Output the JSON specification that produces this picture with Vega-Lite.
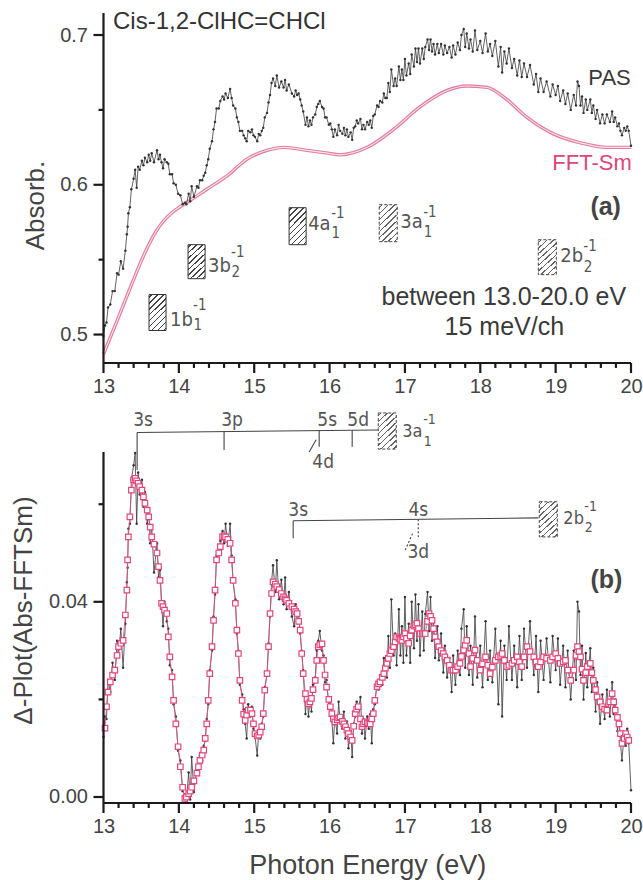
{
"$schema": "https://vega.github.io/schema/vega-lite/v6.json",
"width": 527.5, "height": 790,
"autosize": {"type": "none"},
"padding": {"left": 103.5, "top": 13, "right": 12, "bottom": 77},
"config": {
 "view": {"stroke": null, "fill": null},
 "axis": {"grid": false, "domain": false, "ticks": false, "labelColor": "#444", "labelFont": "Liberation Sans", "labelFontSize": 20, "titleFont": "Liberation Sans", "titleFontWeight": "normal", "titleColor": "#444", "labelPadding": 13, "zindex": 1},
 "text": {"font": "Liberation Sans"}
},
"datasets": {
 "fft": [{"e":13,"v":0.487},{"e":13.1,"v":0.4993},{"e":13.2,"v":0.5117},{"e":13.3,"v":0.5243},{"e":13.4,"v":0.5368},{"e":13.5,"v":0.549},{"e":13.6,"v":0.56},{"e":13.7,"v":0.569},{"e":13.8,"v":0.576},{"e":13.9,"v":0.581},{"e":14,"v":0.5848},{"e":14.1,"v":0.588},{"e":14.37,"v":0.597},{"e":14.64,"v":0.606},{"e":14.9,"v":0.617},{"e":15.17,"v":0.623},{"e":15.39,"v":0.625},{"e":15.7,"v":0.623},{"e":15.95,"v":0.6213},{"e":16.14,"v":0.62},{"e":16.5,"v":0.625},{"e":16.85,"v":0.637},{"e":17.2,"v":0.652},{"e":17.56,"v":0.663},{"e":17.82,"v":0.666},{"e":18.09,"v":0.665},{"e":18.35,"v":0.657},{"e":18.62,"v":0.645},{"e":18.97,"v":0.634},{"e":19.33,"v":0.628},{"e":19.68,"v":0.625},{"e":20,"v":0.625}],
 "pas": [{"e":13,"v":0.499},{"e":13.02,"v":0.506},{"e":13.04,"v":0.508},{"e":13.06,"v":0.518},{"e":13.09,"v":0.52},{"e":13.12,"v":0.529},{"e":13.15,"v":0.529},{"e":13.18,"v":0.541},{"e":13.2,"v":0.54},{"e":13.23,"v":0.549},{"e":13.26,"v":0.544},{"e":13.29,"v":0.556},{"e":13.31,"v":0.567},{"e":13.32,"v":0.572},{"e":13.33,"v":0.581},{"e":13.35,"v":0.585},{"e":13.37,"v":0.597},{"e":13.4,"v":0.604},{"e":13.42,"v":0.61},{"e":13.44,"v":0.598},{"e":13.46,"v":0.612},{"e":13.48,"v":0.61},{"e":13.51,"v":0.616},{"e":13.53,"v":0.613},{"e":13.55,"v":0.618},{"e":13.58,"v":0.615},{"e":13.6,"v":0.62},{"e":13.62,"v":0.616},{"e":13.64,"v":0.621},{"e":13.67,"v":0.615},{"e":13.71,"v":0.623},{"e":13.73,"v":0.617},{"e":13.75,"v":0.62},{"e":13.77,"v":0.615},{"e":13.79,"v":0.611},{"e":13.81,"v":0.617},{"e":13.84,"v":0.615},{"e":13.86,"v":0.614},{"e":13.88,"v":0.607},{"e":13.91,"v":0.607},{"e":13.93,"v":0.601},{"e":13.96,"v":0.6},{"e":13.99,"v":0.594},{"e":14.02,"v":0.593},{"e":14.05,"v":0.587},{"e":14.08,"v":0.588},{"e":14.1,"v":0.587},{"e":14.13,"v":0.594},{"e":14.15,"v":0.589},{"e":14.17,"v":0.599},{"e":14.2,"v":0.592},{"e":14.24,"v":0.599},{"e":14.26,"v":0.598},{"e":14.28,"v":0.603},{"e":14.31,"v":0.603},{"e":14.33,"v":0.606},{"e":14.35,"v":0.608},{"e":14.37,"v":0.613},{"e":14.39,"v":0.617},{"e":14.41,"v":0.624},{"e":14.44,"v":0.629},{"e":14.46,"v":0.637},{"e":14.48,"v":0.642},{"e":14.5,"v":0.651},{"e":14.53,"v":0.651},{"e":14.55,"v":0.656},{"e":14.58,"v":0.659},{"e":14.6,"v":0.657},{"e":14.62,"v":0.661},{"e":14.65,"v":0.658},{"e":14.68,"v":0.664},{"e":14.7,"v":0.658},{"e":14.72,"v":0.653},{"e":14.75,"v":0.651},{"e":14.77,"v":0.645},{"e":14.79,"v":0.642},{"e":14.81,"v":0.636},{"e":14.84,"v":0.636},{"e":14.86,"v":0.633},{"e":14.88,"v":0.631},{"e":14.9,"v":0.629},{"e":14.92,"v":0.636},{"e":14.95,"v":0.635},{"e":14.97,"v":0.637},{"e":14.99,"v":0.633},{"e":15.01,"v":0.632},{"e":15.04,"v":0.629},{"e":15.06,"v":0.634},{"e":15.08,"v":0.633},{"e":15.1,"v":0.636},{"e":15.12,"v":0.638},{"e":15.14,"v":0.645},{"e":15.17,"v":0.648},{"e":15.19,"v":0.655},{"e":15.21,"v":0.66},{"e":15.23,"v":0.668},{"e":15.25,"v":0.671},{"e":15.28,"v":0.666},{"e":15.3,"v":0.673},{"e":15.33,"v":0.665},{"e":15.36,"v":0.669},{"e":15.39,"v":0.665},{"e":15.41,"v":0.67},{"e":15.43,"v":0.663},{"e":15.46,"v":0.667},{"e":15.5,"v":0.661},{"e":15.53,"v":0.659},{"e":15.55,"v":0.663},{"e":15.57,"v":0.66},{"e":15.59,"v":0.661},{"e":15.61,"v":0.657},{"e":15.63,"v":0.653},{"e":15.65,"v":0.649},{"e":15.68,"v":0.64},{"e":15.7,"v":0.645},{"e":15.72,"v":0.639},{"e":15.74,"v":0.643},{"e":15.76,"v":0.64},{"e":15.78,"v":0.645},{"e":15.81,"v":0.647},{"e":15.83,"v":0.652},{"e":15.85,"v":0.654},{"e":15.87,"v":0.656},{"e":15.9,"v":0.652},{"e":15.92,"v":0.651},{"e":15.94,"v":0.645},{"e":15.96,"v":0.645},{"e":15.99,"v":0.64},{"e":16.01,"v":0.641},{"e":16.03,"v":0.637},{"e":16.05,"v":0.632},{"e":16.07,"v":0.637},{"e":16.1,"v":0.633},{"e":16.12,"v":0.64},{"e":16.14,"v":0.636},{"e":16.17,"v":0.634},{"e":16.19,"v":0.638},{"e":16.21,"v":0.633},{"e":16.23,"v":0.637},{"e":16.25,"v":0.632},{"e":16.28,"v":0.635},{"e":16.3,"v":0.63},{"e":16.32,"v":0.638},{"e":16.34,"v":0.639},{"e":16.36,"v":0.643},{"e":16.38,"v":0.641},{"e":16.41,"v":0.644},{"e":16.43,"v":0.637},{"e":16.45,"v":0.64},{"e":16.47,"v":0.637},{"e":16.5,"v":0.642},{"e":16.52,"v":0.64},{"e":16.54,"v":0.643},{"e":16.56,"v":0.638},{"e":16.58,"v":0.646},{"e":16.6,"v":0.647},{"e":16.63,"v":0.653},{"e":16.65,"v":0.652},{"e":16.67,"v":0.656},{"e":16.7,"v":0.655},{"e":16.72,"v":0.661},{"e":16.74,"v":0.658},{"e":16.76,"v":0.658},{"e":16.78,"v":0.668},{"e":16.8,"v":0.662},{"e":16.82,"v":0.677},{"e":16.85,"v":0.666},{"e":16.87,"v":0.671},{"e":16.89,"v":0.666},{"e":16.92,"v":0.679},{"e":16.94,"v":0.67},{"e":16.96,"v":0.677},{"e":16.98,"v":0.67},{"e":17,"v":0.684},{"e":17.02,"v":0.673},{"e":17.05,"v":0.681},{"e":17.07,"v":0.674},{"e":17.09,"v":0.687},{"e":17.12,"v":0.679},{"e":17.14,"v":0.691},{"e":17.16,"v":0.682},{"e":17.18,"v":0.691},{"e":17.2,"v":0.681},{"e":17.23,"v":0.691},{"e":17.25,"v":0.684},{"e":17.27,"v":0.692},{"e":17.3,"v":0.697},{"e":17.32,"v":0.69},{"e":17.34,"v":0.697},{"e":17.36,"v":0.689},{"e":17.38,"v":0.694},{"e":17.4,"v":0.687},{"e":17.43,"v":0.694},{"e":17.45,"v":0.688},{"e":17.48,"v":0.694},{"e":17.51,"v":0.687},{"e":17.53,"v":0.693},{"e":17.56,"v":0.688},{"e":17.59,"v":0.692},{"e":17.62,"v":0.685},{"e":17.64,"v":0.693},{"e":17.67,"v":0.687},{"e":17.7,"v":0.695},{"e":17.73,"v":0.69},{"e":17.75,"v":0.7},{"e":17.78,"v":0.704},{"e":17.8,"v":0.692},{"e":17.82,"v":0.701},{"e":17.85,"v":0.691},{"e":17.87,"v":0.697},{"e":17.9,"v":0.689},{"e":17.93,"v":0.703},{"e":17.96,"v":0.69},{"e":18,"v":0.696},{"e":18.03,"v":0.688},{"e":18.07,"v":0.701},{"e":18.1,"v":0.689},{"e":18.13,"v":0.694},{"e":18.16,"v":0.686},{"e":18.2,"v":0.696},{"e":18.24,"v":0.679},{"e":18.27,"v":0.692},{"e":18.29,"v":0.675},{"e":18.32,"v":0.689},{"e":18.35,"v":0.681},{"e":18.38,"v":0.691},{"e":18.42,"v":0.678},{"e":18.45,"v":0.684},{"e":18.49,"v":0.673},{"e":18.52,"v":0.683},{"e":18.55,"v":0.672},{"e":18.58,"v":0.681},{"e":18.62,"v":0.672},{"e":18.66,"v":0.68},{"e":18.71,"v":0.667},{"e":18.74,"v":0.674},{"e":18.77,"v":0.662},{"e":18.8,"v":0.671},{"e":18.84,"v":0.662},{"e":18.88,"v":0.669},{"e":18.93,"v":0.659},{"e":18.96,"v":0.667},{"e":19,"v":0.66},{"e":19.03,"v":0.666},{"e":19.06,"v":0.656},{"e":19.1,"v":0.663},{"e":19.13,"v":0.654},{"e":19.16,"v":0.661},{"e":19.2,"v":0.65},{"e":19.24,"v":0.66},{"e":19.27,"v":0.653},{"e":19.29,"v":0.669},{"e":19.31,"v":0.666},{"e":19.33,"v":0.653},{"e":19.35,"v":0.659},{"e":19.37,"v":0.648},{"e":19.4,"v":0.657},{"e":19.42,"v":0.65},{"e":19.46,"v":0.657},{"e":19.48,"v":0.648},{"e":19.5,"v":0.653},{"e":19.53,"v":0.644},{"e":19.55,"v":0.65},{"e":19.59,"v":0.641},{"e":19.62,"v":0.647},{"e":19.65,"v":0.641},{"e":19.68,"v":0.647},{"e":19.72,"v":0.642},{"e":19.75,"v":0.649},{"e":19.77,"v":0.642},{"e":19.79,"v":0.645},{"e":19.82,"v":0.639},{"e":19.84,"v":0.641},{"e":19.86,"v":0.636},{"e":19.88,"v":0.633},{"e":19.91,"v":0.638},{"e":19.93,"v":0.636},{"e":19.95,"v":0.639},{"e":19.97,"v":0.636},{"e":20,"v":0.626}],
 "blk": [{"e":13,"v":0.0123},{"e":13.02,"v":0.0165},{"e":13.04,"v":0.016},{"e":13.06,"v":0.024},{"e":13.09,"v":0.0215},{"e":13.12,"v":0.0275},{"e":13.15,"v":0.024},{"e":13.18,"v":0.032},{"e":13.2,"v":0.029},{"e":13.23,"v":0.0345},{"e":13.26,"v":0.0265},{"e":13.29,"v":0.0355},{"e":13.31,"v":0.044},{"e":13.32,"v":0.047},{"e":13.33,"v":0.055},{"e":13.35,"v":0.056},{"e":13.37,"v":0.065},{"e":13.4,"v":0.068},{"e":13.42,"v":0.0705},{"e":13.44,"v":0.056},{"e":13.46,"v":0.0665},{"e":13.48,"v":0.062},{"e":13.51,"v":0.065},{"e":13.53,"v":0.0595},{"e":13.55,"v":0.0625},{"e":13.58,"v":0.056},{"e":13.6,"v":0.059},{"e":13.62,"v":0.052},{"e":13.64,"v":0.0555},{"e":13.67,"v":0.046},{"e":13.71,"v":0.052},{"e":13.73,"v":0.045},{"e":13.75,"v":0.0465},{"e":13.77,"v":0.04},{"e":13.79,"v":0.035},{"e":13.81,"v":0.04},{"e":13.84,"v":0.036},{"e":13.86,"v":0.0345},{"e":13.88,"v":0.027},{"e":13.91,"v":0.026},{"e":13.93,"v":0.019},{"e":13.96,"v":0.0165},{"e":13.99,"v":0.0095},{"e":14.02,"v":0.0075},{"e":14.05,"v":0.0012},{"e":14.08,"v":0.0005},{"e":14.1,"v":-0.0008},{"e":14.13,"v":0.005},{"e":14.15,"v":-0.0005},{"e":14.17,"v":0.0082},{"e":14.2,"v":0.001},{"e":14.24,"v":0.006},{"e":14.26,"v":0.0045},{"e":14.28,"v":0.0085},{"e":14.31,"v":0.0075},{"e":14.33,"v":0.0105},{"e":14.35,"v":0.0115},{"e":14.37,"v":0.016},{"e":14.39,"v":0.019},{"e":14.41,"v":0.026},{"e":14.44,"v":0.03},{"e":14.46,"v":0.037},{"e":14.48,"v":0.0415},{"e":14.5,"v":0.0495},{"e":14.53,"v":0.049},{"e":14.55,"v":0.0525},{"e":14.58,"v":0.0545},{"e":14.6,"v":0.052},{"e":14.62,"v":0.056},{"e":14.65,"v":0.0515},{"e":14.68,"v":0.056},{"e":14.7,"v":0.0495},{"e":14.72,"v":0.044},{"e":14.75,"v":0.0405},{"e":14.77,"v":0.0335},{"e":14.79,"v":0.03},{"e":14.81,"v":0.023},{"e":14.84,"v":0.021},{"e":14.86,"v":0.018},{"e":14.88,"v":0.015},{"e":14.9,"v":0.012},{"e":14.92,"v":0.019},{"e":14.95,"v":0.0165},{"e":14.97,"v":0.0185},{"e":14.99,"v":0.014},{"e":15.01,"v":0.0125},{"e":15.04,"v":0.0085},{"e":15.06,"v":0.0135},{"e":15.08,"v":0.012},{"e":15.1,"v":0.015},{"e":15.12,"v":0.0165},{"e":15.14,"v":0.0225},{"e":15.17,"v":0.025},{"e":15.19,"v":0.0315},{"e":15.21,"v":0.037},{"e":15.23,"v":0.044},{"e":15.25,"v":0.0475},{"e":15.28,"v":0.042},{"e":15.3,"v":0.0485},{"e":15.33,"v":0.0405},{"e":15.36,"v":0.0445},{"e":15.39,"v":0.0395},{"e":15.41,"v":0.045},{"e":15.43,"v":0.0385},{"e":15.46,"v":0.042},{"e":15.5,"v":0.037},{"e":15.53,"v":0.035},{"e":15.55,"v":0.0395},{"e":15.57,"v":0.036},{"e":15.59,"v":0.0375},{"e":15.61,"v":0.0335},{"e":15.63,"v":0.03},{"e":15.65,"v":0.026},{"e":15.68,"v":0.017},{"e":15.7,"v":0.0215},{"e":15.72,"v":0.0165},{"e":15.74,"v":0.02},{"e":15.76,"v":0.0175},{"e":15.78,"v":0.023},{"e":15.81,"v":0.0245},{"e":15.83,"v":0.03},{"e":15.85,"v":0.032},{"e":15.87,"v":0.034},{"e":15.9,"v":0.03},{"e":15.92,"v":0.029},{"e":15.94,"v":0.0235},{"e":15.96,"v":0.024},{"e":15.99,"v":0.0185},{"e":16.01,"v":0.02},{"e":16.03,"v":0.016},{"e":16.05,"v":0.011},{"e":16.07,"v":0.0165},{"e":16.1,"v":0.013},{"e":16.12,"v":0.0195},{"e":16.14,"v":0.0155},{"e":16.17,"v":0.014},{"e":16.19,"v":0.0175},{"e":16.21,"v":0.012},{"e":16.23,"v":0.0155},{"e":16.25,"v":0.01},{"e":16.28,"v":0.0135},{"e":16.3,"v":0.0082},{"e":16.32,"v":0.015},{"e":16.34,"v":0.0165},{"e":16.36,"v":0.0195},{"e":16.38,"v":0.0175},{"e":16.41,"v":0.0205},{"e":16.43,"v":0.013},{"e":16.45,"v":0.016},{"e":16.47,"v":0.012},{"e":16.5,"v":0.0165},{"e":16.52,"v":0.014},{"e":16.54,"v":0.017},{"e":16.56,"v":0.011},{"e":16.58,"v":0.018},{"e":16.6,"v":0.019},{"e":16.63,"v":0.0235},{"e":16.65,"v":0.022},{"e":16.67,"v":0.025},{"e":16.7,"v":0.023},{"e":16.72,"v":0.0285},{"e":16.74,"v":0.025},{"e":16.76,"v":0.0245},{"e":16.78,"v":0.033},{"e":16.8,"v":0.0265},{"e":16.82,"v":0.0405},{"e":16.85,"v":0.029},{"e":16.87,"v":0.0335},{"e":16.89,"v":0.027},{"e":16.92,"v":0.0385},{"e":16.94,"v":0.029},{"e":16.96,"v":0.035},{"e":16.98,"v":0.0275},{"e":17,"v":0.041},{"e":17.02,"v":0.029},{"e":17.05,"v":0.0355},{"e":17.07,"v":0.0275},{"e":17.09,"v":0.04},{"e":17.12,"v":0.0305},{"e":17.14,"v":0.0415},{"e":17.16,"v":0.032},{"e":17.18,"v":0.0395},{"e":17.2,"v":0.029},{"e":17.23,"v":0.038},{"e":17.25,"v":0.03},{"e":17.27,"v":0.0375},{"e":17.3,"v":0.042},{"e":17.32,"v":0.034},{"e":17.34,"v":0.041},{"e":17.36,"v":0.032},{"e":17.38,"v":0.036},{"e":17.4,"v":0.0285},{"e":17.43,"v":0.035},{"e":17.45,"v":0.028},{"e":17.48,"v":0.0335},{"e":17.51,"v":0.0255},{"e":17.53,"v":0.031},{"e":17.56,"v":0.0245},{"e":17.59,"v":0.0285},{"e":17.62,"v":0.0215},{"e":17.64,"v":0.029},{"e":17.67,"v":0.023},{"e":17.7,"v":0.03},{"e":17.73,"v":0.025},{"e":17.75,"v":0.0345},{"e":17.78,"v":0.0385},{"e":17.8,"v":0.0265},{"e":17.82,"v":0.035},{"e":17.85,"v":0.025},{"e":17.87,"v":0.031},{"e":17.9,"v":0.023},{"e":17.93,"v":0.037},{"e":17.96,"v":0.0245},{"e":18,"v":0.031},{"e":18.03,"v":0.0225},{"e":18.07,"v":0.036},{"e":18.1,"v":0.024},{"e":18.13,"v":0.03},{"e":18.16,"v":0.0235},{"e":18.2,"v":0.0345},{"e":18.24,"v":0.019},{"e":18.27,"v":0.032},{"e":18.29,"v":0.0165},{"e":18.32,"v":0.031},{"e":18.35,"v":0.024},{"e":18.38,"v":0.035},{"e":18.42,"v":0.024},{"e":18.45,"v":0.031},{"e":18.49,"v":0.0225},{"e":18.52,"v":0.033},{"e":18.55,"v":0.024},{"e":18.58,"v":0.0345},{"e":18.62,"v":0.0265},{"e":18.66,"v":0.036},{"e":18.71,"v":0.025},{"e":18.74,"v":0.033},{"e":18.77,"v":0.0215},{"e":18.8,"v":0.032},{"e":18.84,"v":0.024},{"e":18.88,"v":0.0325},{"e":18.93,"v":0.0235},{"e":18.96,"v":0.033},{"e":19,"v":0.026},{"e":19.03,"v":0.0325},{"e":19.06,"v":0.023},{"e":19.1,"v":0.031},{"e":19.13,"v":0.0225},{"e":19.16,"v":0.03},{"e":19.2,"v":0.02},{"e":19.24,"v":0.03},{"e":19.27,"v":0.024},{"e":19.29,"v":0.04},{"e":19.31,"v":0.038},{"e":19.33,"v":0.025},{"e":19.35,"v":0.031},{"e":19.37,"v":0.02},{"e":19.4,"v":0.0295},{"e":19.42,"v":0.0225},{"e":19.46,"v":0.0305},{"e":19.48,"v":0.0215},{"e":19.5,"v":0.0265},{"e":19.53,"v":0.0175},{"e":19.55,"v":0.0235},{"e":19.59,"v":0.015},{"e":19.62,"v":0.021},{"e":19.65,"v":0.016},{"e":19.68,"v":0.022},{"e":19.72,"v":0.0165},{"e":19.75,"v":0.0235},{"e":19.77,"v":0.017},{"e":19.79,"v":0.02},{"e":19.82,"v":0.0135},{"e":19.84,"v":0.016},{"e":19.86,"v":0.011},{"e":19.88,"v":0.0075},{"e":19.91,"v":0.013},{"e":19.93,"v":0.0105},{"e":19.95,"v":0.014},{"e":19.97,"v":0.011},{"e":20,"v":0.0014}],
 "pink": [{"e":13.02,"v":0.0141},{"e":13.04,"v":0.0185},{"e":13.06,"v":0.0215},{"e":13.09,"v":0.0236},{"e":13.12,"v":0.025},{"e":13.15,"v":0.026},{"e":13.18,"v":0.029},{"e":13.2,"v":0.0308},{"e":13.23,"v":0.0315},{"e":13.26,"v":0.0321},{"e":13.29,"v":0.0373},{"e":13.31,"v":0.0424},{"e":13.32,"v":0.0486},{"e":13.33,"v":0.0533},{"e":13.35,"v":0.0574},{"e":13.37,"v":0.0629},{"e":13.4,"v":0.065},{"e":13.42,"v":0.0653},{"e":13.44,"v":0.0648},{"e":13.46,"v":0.0643},{"e":13.48,"v":0.0636},{"e":13.51,"v":0.0629},{"e":13.53,"v":0.0615},{"e":13.55,"v":0.0602},{"e":13.58,"v":0.0588},{"e":13.6,"v":0.0574},{"e":13.62,"v":0.0553},{"e":13.64,"v":0.0533},{"e":13.67,"v":0.0518},{"e":13.71,"v":0.05},{"e":13.73,"v":0.0472},{"e":13.75,"v":0.0444},{"e":13.77,"v":0.0397},{"e":13.79,"v":0.039},{"e":13.81,"v":0.0383},{"e":13.84,"v":0.0376},{"e":13.86,"v":0.0328},{"e":13.88,"v":0.0287},{"e":13.91,"v":0.0246},{"e":13.93,"v":0.0198},{"e":13.96,"v":0.015},{"e":13.99,"v":0.0103},{"e":14.02,"v":0.0062},{"e":14.05,"v":0.002},{"e":14.08,"v":-0.0003},{"e":14.1,"v":0},{"e":14.13,"v":0.0007},{"e":14.15,"v":0.0012},{"e":14.17,"v":0.002},{"e":14.2,"v":0.0033},{"e":14.24,"v":0.0049},{"e":14.26,"v":0.0062},{"e":14.28,"v":0.0075},{"e":14.31,"v":0.0086},{"e":14.33,"v":0.0096},{"e":14.35,"v":0.012},{"e":14.37,"v":0.015},{"e":14.39,"v":0.0198},{"e":14.41,"v":0.0253},{"e":14.44,"v":0.0308},{"e":14.46,"v":0.0362},{"e":14.48,"v":0.0424},{"e":14.5,"v":0.0486},{"e":14.53,"v":0.05},{"e":14.55,"v":0.0513},{"e":14.58,"v":0.0533},{"e":14.6,"v":0.0535},{"e":14.62,"v":0.0533},{"e":14.65,"v":0.0528},{"e":14.68,"v":0.052},{"e":14.7,"v":0.0486},{"e":14.72,"v":0.0444},{"e":14.75,"v":0.0397},{"e":14.77,"v":0.0342},{"e":14.79,"v":0.0294},{"e":14.81,"v":0.0239},{"e":14.84,"v":0.0198},{"e":14.86,"v":0.017},{"e":14.88,"v":0.0157},{"e":14.9,"v":0.0168},{"e":14.92,"v":0.0178},{"e":14.95,"v":0.0178},{"e":14.97,"v":0.0171},{"e":14.99,"v":0.015},{"e":15.01,"v":0.013},{"e":15.04,"v":0.0125},{"e":15.06,"v":0.0127},{"e":15.08,"v":0.0133},{"e":15.1,"v":0.0144},{"e":15.12,"v":0.0171},{"e":15.14,"v":0.0219},{"e":15.17,"v":0.0253},{"e":15.19,"v":0.0308},{"e":15.21,"v":0.0376},{"e":15.23,"v":0.0417},{"e":15.25,"v":0.0441},{"e":15.28,"v":0.0436},{"e":15.3,"v":0.0431},{"e":15.33,"v":0.0425},{"e":15.36,"v":0.0417},{"e":15.39,"v":0.041},{"e":15.41,"v":0.0406},{"e":15.43,"v":0.0403},{"e":15.46,"v":0.0397},{"e":15.5,"v":0.039},{"e":15.53,"v":0.0385},{"e":15.55,"v":0.038},{"e":15.57,"v":0.0376},{"e":15.59,"v":0.036},{"e":15.61,"v":0.0342},{"e":15.63,"v":0.0294},{"e":15.65,"v":0.0253},{"e":15.68,"v":0.0212},{"e":15.7,"v":0.02},{"e":15.72,"v":0.0191},{"e":15.74,"v":0.0195},{"e":15.76,"v":0.0202},{"e":15.78,"v":0.022},{"e":15.81,"v":0.0239},{"e":15.83,"v":0.028},{"e":15.85,"v":0.0308},{"e":15.87,"v":0.0312},{"e":15.9,"v":0.0314},{"e":15.92,"v":0.028},{"e":15.94,"v":0.025},{"e":15.96,"v":0.0225},{"e":15.99,"v":0.02},{"e":16.01,"v":0.0185},{"e":16.03,"v":0.0171},{"e":16.05,"v":0.016},{"e":16.07,"v":0.0154},{"e":16.1,"v":0.0158},{"e":16.12,"v":0.0162},{"e":16.14,"v":0.0164},{"e":16.17,"v":0.0155},{"e":16.19,"v":0.015},{"e":16.21,"v":0.0144},{"e":16.23,"v":0.0137},{"e":16.25,"v":0.013},{"e":16.28,"v":0.0123},{"e":16.3,"v":0.0116},{"e":16.32,"v":0.0145},{"e":16.34,"v":0.0171},{"e":16.36,"v":0.018},{"e":16.38,"v":0.0185},{"e":16.41,"v":0.016},{"e":16.43,"v":0.0144},{"e":16.45,"v":0.015},{"e":16.47,"v":0.0154},{"e":16.5,"v":0.0152},{"e":16.52,"v":0.0151},{"e":16.54,"v":0.015},{"e":16.56,"v":0.016},{"e":16.58,"v":0.0171},{"e":16.6,"v":0.0198},{"e":16.63,"v":0.0226},{"e":16.65,"v":0.0232},{"e":16.67,"v":0.0236},{"e":16.7,"v":0.0245},{"e":16.72,"v":0.0253},{"e":16.74,"v":0.0264},{"e":16.76,"v":0.0274},{"e":16.78,"v":0.0284},{"e":16.8,"v":0.0294},{"e":16.82,"v":0.03},{"e":16.85,"v":0.0308},{"e":16.87,"v":0.0318},{"e":16.89,"v":0.0328},{"e":16.92,"v":0.0325},{"e":16.94,"v":0.0323},{"e":16.96,"v":0.0321},{"e":16.98,"v":0.0328},{"e":17,"v":0.0335},{"e":17.02,"v":0.0325},{"e":17.05,"v":0.0315},{"e":17.07,"v":0.033},{"e":17.09,"v":0.0342},{"e":17.12,"v":0.035},{"e":17.14,"v":0.0353},{"e":17.16,"v":0.0356},{"e":17.18,"v":0.0345},{"e":17.2,"v":0.0335},{"e":17.23,"v":0.0335},{"e":17.25,"v":0.0335},{"e":17.27,"v":0.0335},{"e":17.3,"v":0.036},{"e":17.32,"v":0.0376},{"e":17.34,"v":0.037},{"e":17.36,"v":0.0362},{"e":17.38,"v":0.0345},{"e":17.4,"v":0.0328},{"e":17.43,"v":0.0318},{"e":17.45,"v":0.0308},{"e":17.48,"v":0.03},{"e":17.51,"v":0.0294},{"e":17.53,"v":0.0287},{"e":17.56,"v":0.028},{"e":17.59,"v":0.027},{"e":17.62,"v":0.026},{"e":17.64,"v":0.026},{"e":17.67,"v":0.026},{"e":17.7,"v":0.0267},{"e":17.73,"v":0.0274},{"e":17.75,"v":0.0288},{"e":17.78,"v":0.0301},{"e":17.8,"v":0.0311},{"e":17.82,"v":0.0321},{"e":17.85,"v":0.0294},{"e":17.87,"v":0.0267},{"e":17.9,"v":0.0284},{"e":17.93,"v":0.0301},{"e":17.96,"v":0.028},{"e":18,"v":0.026},{"e":18.03,"v":0.0273},{"e":18.07,"v":0.0287},{"e":18.1,"v":0.027},{"e":18.13,"v":0.0253},{"e":18.16,"v":0.0266},{"e":18.2,"v":0.028},{"e":18.24,"v":0.0287},{"e":18.27,"v":0.029},{"e":18.29,"v":0.0294},{"e":18.32,"v":0.028},{"e":18.35,"v":0.0267},{"e":18.38,"v":0.027},{"e":18.42,"v":0.0274},{"e":18.45,"v":0.028},{"e":18.49,"v":0.0287},{"e":18.52,"v":0.0277},{"e":18.55,"v":0.0267},{"e":18.58,"v":0.0287},{"e":18.62,"v":0.0308},{"e":18.66,"v":0.0298},{"e":18.71,"v":0.0287},{"e":18.74,"v":0.0277},{"e":18.77,"v":0.0267},{"e":18.8,"v":0.0277},{"e":18.84,"v":0.0287},{"e":18.88,"v":0.0284},{"e":18.93,"v":0.028},{"e":18.96,"v":0.0287},{"e":19,"v":0.0294},{"e":19.03,"v":0.0284},{"e":19.06,"v":0.0274},{"e":19.1,"v":0.0277},{"e":19.13,"v":0.028},{"e":19.16,"v":0.026},{"e":19.2,"v":0.0239},{"e":19.24,"v":0.026},{"e":19.27,"v":0.029},{"e":19.29,"v":0.0308},{"e":19.31,"v":0.0298},{"e":19.33,"v":0.0287},{"e":19.35,"v":0.0262},{"e":19.37,"v":0.0239},{"e":19.4,"v":0.0255},{"e":19.42,"v":0.0267},{"e":19.46,"v":0.0274},{"e":19.48,"v":0.0255},{"e":19.5,"v":0.0239},{"e":19.53,"v":0.022},{"e":19.55,"v":0.0205},{"e":19.59,"v":0.0195},{"e":19.62,"v":0.0185},{"e":19.65,"v":0.018},{"e":19.68,"v":0.0178},{"e":19.72,"v":0.0195},{"e":19.75,"v":0.0212},{"e":19.77,"v":0.0195},{"e":19.79,"v":0.0178},{"e":19.82,"v":0.0163},{"e":19.84,"v":0.015},{"e":19.86,"v":0.013},{"e":19.88,"v":0.011},{"e":19.91,"v":0.012},{"e":19.93,"v":0.013},{"e":19.95,"v":0.0123},{"e":19.97,"v":0.0116}],
 "axT": [{"e":13,"e2":20,"v":0.481,"v2":0.481},{"e":13,"e2":13,"v":0.481,"v2":0.7147},{"e":13,"e2":12.867,"v":0.5,"v2":0.5},{"e":13,"e2":12.867,"v":0.6,"v2":0.6},{"e":13,"e2":12.867,"v":0.7,"v2":0.7},{"e":13,"e2":12.934,"v":0.55,"v2":0.55},{"e":13,"e2":12.934,"v":0.65,"v2":0.65},{"e":13,"e2":13,"v":0.481,"v2":0.4743},{"e":14,"e2":14,"v":0.481,"v2":0.4743},{"e":15,"e2":15,"v":0.481,"v2":0.4743},{"e":16,"e2":16,"v":0.481,"v2":0.4743},{"e":17,"e2":17,"v":0.481,"v2":0.4743},{"e":18,"e2":18,"v":0.481,"v2":0.4743},{"e":19,"e2":19,"v":0.481,"v2":0.4743},{"e":20,"e2":20,"v":0.481,"v2":0.4743},{"e":13.2,"e2":13.2,"v":0.481,"v2":0.4777},{"e":13.4,"e2":13.4,"v":0.481,"v2":0.4777},{"e":13.6,"e2":13.6,"v":0.481,"v2":0.4777},{"e":13.8,"e2":13.8,"v":0.481,"v2":0.4777},{"e":14.2,"e2":14.2,"v":0.481,"v2":0.4777},{"e":14.4,"e2":14.4,"v":0.481,"v2":0.4777},{"e":14.6,"e2":14.6,"v":0.481,"v2":0.4777},{"e":14.8,"e2":14.8,"v":0.481,"v2":0.4777},{"e":15.2,"e2":15.2,"v":0.481,"v2":0.4777},{"e":15.4,"e2":15.4,"v":0.481,"v2":0.4777},{"e":15.6,"e2":15.6,"v":0.481,"v2":0.4777},{"e":15.8,"e2":15.8,"v":0.481,"v2":0.4777},{"e":16.2,"e2":16.2,"v":0.481,"v2":0.4777},{"e":16.4,"e2":16.4,"v":0.481,"v2":0.4777},{"e":16.6,"e2":16.6,"v":0.481,"v2":0.4777},{"e":16.8,"e2":16.8,"v":0.481,"v2":0.4777},{"e":17.2,"e2":17.2,"v":0.481,"v2":0.4777},{"e":17.4,"e2":17.4,"v":0.481,"v2":0.4777},{"e":17.6,"e2":17.6,"v":0.481,"v2":0.4777},{"e":17.8,"e2":17.8,"v":0.481,"v2":0.4777},{"e":18.2,"e2":18.2,"v":0.481,"v2":0.4777},{"e":18.4,"e2":18.4,"v":0.481,"v2":0.4777},{"e":18.6,"e2":18.6,"v":0.481,"v2":0.4777},{"e":18.8,"e2":18.8,"v":0.481,"v2":0.4777},{"e":19.2,"e2":19.2,"v":0.481,"v2":0.4777},{"e":19.4,"e2":19.4,"v":0.481,"v2":0.4777},{"e":19.6,"e2":19.6,"v":0.481,"v2":0.4777},{"e":19.8,"e2":19.8,"v":0.481,"v2":0.4777}],
 "axB": [{"e":13,"e2":20,"v":-0.00123,"v2":-0.00123},{"e":13,"e2":13,"v":-0.00123,"v2":0.0707},{"e":13,"e2":12.867,"v":0,"v2":0},{"e":13,"e2":12.867,"v":0.04,"v2":0.04},{"e":13,"e2":12.934,"v":0.02,"v2":0.02},{"e":13,"e2":12.934,"v":0.06,"v2":0.06},{"e":13,"e2":13,"v":-0.00123,"v2":-0.00328},{"e":14,"e2":14,"v":-0.00123,"v2":-0.00328},{"e":15,"e2":15,"v":-0.00123,"v2":-0.00328},{"e":16,"e2":16,"v":-0.00123,"v2":-0.00328},{"e":17,"e2":17,"v":-0.00123,"v2":-0.00328},{"e":18,"e2":18,"v":-0.00123,"v2":-0.00328},{"e":19,"e2":19,"v":-0.00123,"v2":-0.00328},{"e":20,"e2":20,"v":-0.00123,"v2":-0.00328},{"e":13.2,"e2":13.2,"v":-0.00123,"v2":-0.00226},{"e":13.4,"e2":13.4,"v":-0.00123,"v2":-0.00226},{"e":13.6,"e2":13.6,"v":-0.00123,"v2":-0.00226},{"e":13.8,"e2":13.8,"v":-0.00123,"v2":-0.00226},{"e":14.2,"e2":14.2,"v":-0.00123,"v2":-0.00226},{"e":14.4,"e2":14.4,"v":-0.00123,"v2":-0.00226},{"e":14.6,"e2":14.6,"v":-0.00123,"v2":-0.00226},{"e":14.8,"e2":14.8,"v":-0.00123,"v2":-0.00226},{"e":15.2,"e2":15.2,"v":-0.00123,"v2":-0.00226},{"e":15.4,"e2":15.4,"v":-0.00123,"v2":-0.00226},{"e":15.6,"e2":15.6,"v":-0.00123,"v2":-0.00226},{"e":15.8,"e2":15.8,"v":-0.00123,"v2":-0.00226},{"e":16.2,"e2":16.2,"v":-0.00123,"v2":-0.00226},{"e":16.4,"e2":16.4,"v":-0.00123,"v2":-0.00226},{"e":16.6,"e2":16.6,"v":-0.00123,"v2":-0.00226},{"e":16.8,"e2":16.8,"v":-0.00123,"v2":-0.00226},{"e":17.2,"e2":17.2,"v":-0.00123,"v2":-0.00226},{"e":17.4,"e2":17.4,"v":-0.00123,"v2":-0.00226},{"e":17.6,"e2":17.6,"v":-0.00123,"v2":-0.00226},{"e":17.8,"e2":17.8,"v":-0.00123,"v2":-0.00226},{"e":18.2,"e2":18.2,"v":-0.00123,"v2":-0.00226},{"e":18.4,"e2":18.4,"v":-0.00123,"v2":-0.00226},{"e":18.6,"e2":18.6,"v":-0.00123,"v2":-0.00226},{"e":18.8,"e2":18.8,"v":-0.00123,"v2":-0.00226},{"e":19.2,"e2":19.2,"v":-0.00123,"v2":-0.00226},{"e":19.4,"e2":19.4,"v":-0.00123,"v2":-0.00226},{"e":19.6,"e2":19.6,"v":-0.00123,"v2":-0.00226},{"e":19.8,"e2":19.8,"v":-0.00123,"v2":-0.00226}]
},
"layer": [
 {"layer": [
  {"data": {"name": "fft"}, "mark": {"type": "line", "color": "#e27b9d", "strokeWidth": 3.4, "interpolate": "monotone"},
   "encoding": {
    "x": {"field": "e", "type": "quantitative", "scale": {"domain": [13, 20], "nice": false, "zero": false},
      "axis": {"orient": "bottom", "offset": -440, "title": null, "values": [13,14,15,16,17,18,19,20], "format": "d", "labelFlush": false, "labelOverlap": false}},
    "y": {"field": "v", "type": "quantitative", "scale": {"domain": [0.481, 0.7147], "range": [350, 0], "nice": false, "zero": false},
      "axis": {"orient": "left", "title": "Absorb.", "titleFontSize": 26, "titleX": -68.5, "titleY": 192, "titleAngle": 270, "titleAlign": "center", "titleBaseline": "middle",
        "values": [0.5, 0.6, 0.7], "format": ".1f", "labelOverlap": false, "labelPadding": 16}}
   }},
  {"data": {"name": "fft"}, "mark": {"type": "line", "color": "#fbe4ec", "strokeWidth": 1.1, "interpolate": "monotone"},
   "encoding": {"x": {"field": "e", "type": "quantitative"}, "y": {"field": "v", "type": "quantitative"}}},
  {"data": {"name": "pas"}, "mark": {"type": "line", "color": "#3a3a3a", "strokeWidth": 0.8, "point": {"filled": true, "size": 6, "color": "#333"}},
   "encoding": {"x": {"field": "e", "type": "quantitative"}, "y": {"field": "v", "type": "quantitative"}}},
  {"data": {"name": "axT"}, "mark": {"type": "rule", "color": "#1a1a1a", "strokeWidth": 2.2, "clip": false},
   "encoding": {"x": {"field": "e", "type": "quantitative"}, "x2": {"field": "e2"}, "y": {"field": "v", "type": "quantitative"}, "y2": {"field": "v2"}}},
  {"data": {"values": [{"e":13.604,"e2":13.83,"v":0.5267,"v2":0.5027},{"e":14.122,"e2":14.348,"v":0.56,"v2":0.5373},{"e":15.463,"e2":15.689,"v":0.5847,"v2":0.56}]},
   "mark": {"type": "rect", "stroke": "#333", "strokeWidth": 1,
     "fill": {"gradient": "linear", "x1": 0, "y1": 0, "x2": 0.7, "y2": 1.5, "stops": [{"offset":0,"color":"#fff"},{"offset":0.03,"color":"#fff"},{"offset":0.03,"color":"#444"},{"offset":0.055,"color":"#444"},{"offset":0.055,"color":"#fff"},{"offset":0.12,"color":"#fff"},{"offset":0.12,"color":"#444"},{"offset":0.145,"color":"#444"},{"offset":0.145,"color":"#fff"},{"offset":0.21,"color":"#fff"},{"offset":0.21,"color":"#444"},{"offset":0.235,"color":"#444"},{"offset":0.235,"color":"#fff"},{"offset":0.3,"color":"#fff"},{"offset":0.3,"color":"#444"},{"offset":0.325,"color":"#444"},{"offset":0.325,"color":"#fff"},{"offset":0.39,"color":"#fff"},{"offset":0.39,"color":"#444"},{"offset":0.415,"color":"#444"},{"offset":0.415,"color":"#fff"},{"offset":0.48,"color":"#fff"},{"offset":0.48,"color":"#444"},{"offset":0.505,"color":"#444"},{"offset":0.505,"color":"#fff"},{"offset":0.57,"color":"#fff"},{"offset":0.57,"color":"#444"},{"offset":0.595,"color":"#444"},{"offset":0.595,"color":"#fff"},{"offset":0.66,"color":"#fff"},{"offset":0.66,"color":"#444"},{"offset":0.685,"color":"#444"},{"offset":0.685,"color":"#fff"},{"offset":0.75,"color":"#fff"},{"offset":0.75,"color":"#444"},{"offset":0.775,"color":"#444"},{"offset":0.775,"color":"#fff"},{"offset":1,"color":"#fff"}]}},
   "encoding": {"x": {"field": "e", "type": "quantitative"}, "x2": {"field": "e2"}, "y": {"field": "v", "type": "quantitative"}, "y2": {"field": "v2"}}},
  {"data": {"values": [{"e":16.659,"e2":16.898,"v":0.5867,"v2":0.562},{"e":18.77,"e2":19.009,"v":0.5633,"v2":0.54}]},
   "mark": {"type": "rect", "stroke": "#444", "strokeWidth": 1, "strokeDash": [3, 2],
     "fill": {"gradient": "linear", "x1": 0, "y1": 0, "x2": 0.7, "y2": 1.5, "stops": [{"offset":0,"color":"#fff"},{"offset":0.03,"color":"#fff"},{"offset":0.03,"color":"#666"},{"offset":0.052,"color":"#666"},{"offset":0.052,"color":"#fff"},{"offset":0.12,"color":"#fff"},{"offset":0.12,"color":"#666"},{"offset":0.142,"color":"#666"},{"offset":0.142,"color":"#fff"},{"offset":0.21,"color":"#fff"},{"offset":0.21,"color":"#666"},{"offset":0.232,"color":"#666"},{"offset":0.232,"color":"#fff"},{"offset":0.3,"color":"#fff"},{"offset":0.3,"color":"#666"},{"offset":0.322,"color":"#666"},{"offset":0.322,"color":"#fff"},{"offset":0.39,"color":"#fff"},{"offset":0.39,"color":"#666"},{"offset":0.412,"color":"#666"},{"offset":0.412,"color":"#fff"},{"offset":0.48,"color":"#fff"},{"offset":0.48,"color":"#666"},{"offset":0.502,"color":"#666"},{"offset":0.502,"color":"#fff"},{"offset":0.57,"color":"#fff"},{"offset":0.57,"color":"#666"},{"offset":0.592,"color":"#666"},{"offset":0.592,"color":"#fff"},{"offset":0.66,"color":"#fff"},{"offset":0.66,"color":"#666"},{"offset":0.682,"color":"#666"},{"offset":0.682,"color":"#fff"},{"offset":0.75,"color":"#fff"},{"offset":0.75,"color":"#666"},{"offset":0.772,"color":"#666"},{"offset":0.772,"color":"#fff"},{"offset":1,"color":"#fff"}]}},
   "encoding": {"x": {"field": "e", "type": "quantitative"}, "x2": {"field": "e2"}, "y": {"field": "v", "type": "quantitative"}, "y2": {"field": "v2"}}},
  {"data": {"values": [{"e":13.126,"v":0.7087,"t":"Cis-1,2-ClHC=CHCl"}]},
   "mark": {"type": "text", "align": "left", "baseline": "middle", "fontSize": 24, "color": "#333"},
   "encoding": {"x": {"field": "e", "type": "quantitative"}, "y": {"field": "v", "type": "quantitative"}, "text": {"field": "t"}}},
  {"data": {"values": [{"e":19.434,"v":0.6713,"t":"PAS"}]},
   "mark": {"type": "text", "align": "left", "baseline": "middle", "fontSize": 22, "color": "#3a3a3a"},
   "encoding": {"x": {"field": "e", "type": "quantitative"}, "y": {"field": "v", "type": "quantitative"}, "text": {"field": "t"}}},
  {"data": {"values": [{"e":18.956,"v":0.6147,"t":"FFT-Sm"}]},
   "mark": {"type": "text", "align": "left", "baseline": "middle", "fontSize": 22, "color": "#e0457a"},
   "encoding": {"x": {"field": "e", "type": "quantitative"}, "y": {"field": "v", "type": "quantitative"}, "text": {"field": "t"}}},
  {"data": {"values": [{"e":19.461,"v":0.5853,"t":"(a)"}]},
   "mark": {"type": "text", "align": "left", "baseline": "middle", "fontSize": 25, "fontWeight": "bold", "color": "#444"},
   "encoding": {"x": {"field": "e", "type": "quantitative"}, "y": {"field": "v", "type": "quantitative"}, "text": {"field": "t"}}},
  {"data": {"values": [{"e":18.312,"v":0.5253,"t":"between 13.0-20.0 eV"},{"e":18.319,"v":0.5053,"t":"15 meV/ch"}]},
   "mark": {"type": "text", "align": "center", "baseline": "middle", "fontSize": 25, "color": "#3a3a3a"},
   "encoding": {"x": {"field": "e", "type": "quantitative"}, "y": {"field": "v", "type": "quantitative"}, "text": {"field": "t"}}},
  {"data": {"values": [{"e":13.883,"v":0.51,"t":"1b"},{"e":14.388,"v":0.546,"t":"3b"},{"e":15.716,"v":0.574,"t":"4a"},{"e":16.937,"v":0.5753,"t":"3a"},{"e":19.062,"v":0.5527,"t":"2b"}]},
   "mark": {"type": "text", "align": "left", "baseline": "middle", "fontSize": 20, "font": "DejaVu Sans Condensed, Liberation Sans", "color": "#555"},
   "encoding": {"x": {"field": "e", "type": "quantitative"}, "y": {"field": "v", "type": "quantitative"}, "text": {"field": "t"}}},
  {"data": {"values": [{"e":14.189,"v":0.52,"t":"-1"},{"e":14.693,"v":0.5553,"t":"-1"},{"e":16.021,"v":0.5813,"t":"-1"},{"e":17.243,"v":0.582,"t":"-1"},{"e":19.368,"v":0.5593,"t":"-1"},{"e":14.195,"v":0.5065,"t":"1"},{"e":14.699,"v":0.5415,"t":"2"},{"e":16.027,"v":0.5675,"t":"1"},{"e":17.249,"v":0.5685,"t":"1"},{"e":19.374,"v":0.5453,"t":"2"}]},
   "mark": {"type": "text", "align": "left", "baseline": "middle", "fontSize": 15, "font": "DejaVu Sans Condensed, Liberation Sans", "color": "#555"},
   "encoding": {"x": {"field": "e", "type": "quantitative"}, "y": {"field": "v", "type": "quantitative"}, "text": {"field": "t"}}}
 ]},
 {"layer": [
  {"data": {"name": "blk"}, "mark": {"type": "line", "color": "#3a3a3a", "strokeWidth": 0.8, "point": {"filled": true, "size": 6, "color": "#333"}},
   "encoding": {
    "x": {"field": "e", "type": "quantitative", "scale": {"domain": [13, 20], "nice": false, "zero": false},
      "axis": {"orient": "bottom", "offset": 0, "title": "Photon Energy (eV)", "titleFontSize": 27, "titleY": 62, "titleBaseline": "middle",
        "values": [13,14,15,16,17,18,19,20], "format": "d", "labelFlush": false, "labelOverlap": false}},
    "y": {"field": "v", "type": "quantitative", "scale": {"domain": [-0.00123, 0.0707], "range": [790, 439], "nice": false, "zero": false},
      "axis": {"orient": "left", "title": "Δ-Plot(Abs-FFTSm)", "titleFontSize": 26, "titleX": -80.5, "titleY": 597, "titleAngle": 270, "titleAlign": "center", "titleBaseline": "middle",
        "values": [0, 0.04], "format": ".2f", "labelOverlap": false, "labelPadding": 16}}
   }},
  {"data": {"name": "pink"}, "mark": {"type": "line", "color": "#e4507f", "strokeWidth": 0.8, "point": {"shape": "square", "filled": true, "fill": "#fff", "stroke": "#e4467c", "strokeWidth": 1.2, "size": 30}},
   "encoding": {"x": {"field": "e", "type": "quantitative"}, "y": {"field": "v", "type": "quantitative"}}},
  {"data": {"name": "axB"}, "mark": {"type": "rule", "color": "#1a1a1a", "strokeWidth": 2.2, "clip": false},
   "encoding": {"x": {"field": "e", "type": "quantitative"}, "x2": {"field": "e2"}, "y": {"field": "v", "type": "quantitative"}, "y2": {"field": "v2"}}},
  {"data": {"values": [{"e":13.446,"e2":16.646,"v":0.0747,"v2":0.0752},{"e":13.446,"e2":13.446,"v":0.0747,"v2":0.067},{"e":14.6,"e2":14.6,"v":0.0749,"v2":0.0711},{"e":15.862,"e2":15.862,"v":0.0751,"v2":0.0718},{"e":16.3,"e2":16.3,"v":0.0751,"v2":0.0718},{"e":15.729,"e2":15.822,"v":0.0707,"v2":0.0732},{"e":15.517,"e2":18.771,"v":0.0566,"v2":0.0572},{"e":15.517,"e2":15.517,"v":0.0566,"v2":0.053}]},
   "mark": {"type": "rule", "color": "#444", "strokeWidth": 1.1},
   "encoding": {"x": {"field": "e", "type": "quantitative"}, "x2": {"field": "e2"}, "y": {"field": "v", "type": "quantitative"}, "y2": {"field": "v2"}}},
  {"data": {"values": [{"e":17.177,"e2":17.177,"v":0.0569,"v2":0.0533},{"e":17.004,"e2":17.11,"v":0.0506,"v2":0.0543}]},
   "mark": {"type": "rule", "color": "#444", "strokeWidth": 1.1, "strokeDash": [2, 2]},
   "encoding": {"x": {"field": "e", "type": "quantitative"}, "x2": {"field": "e2"}, "y": {"field": "v", "type": "quantitative"}, "y2": {"field": "v2"}}},
  {"data": {"values": [{"e":16.646,"e2":16.885,"v":0.0787,"v2":0.0713},{"e":18.783,"e2":19.022,"v":0.0605,"v2":0.0533}]},
   "mark": {"type": "rect", "stroke": "#444", "strokeWidth": 1, "strokeDash": [3, 2],
     "fill": {"gradient": "linear", "x1": 0, "y1": 0, "x2": 0.7, "y2": 1.5, "stops": [{"offset":0,"color":"#fff"},{"offset":0.03,"color":"#fff"},{"offset":0.03,"color":"#666"},{"offset":0.052,"color":"#666"},{"offset":0.052,"color":"#fff"},{"offset":0.12,"color":"#fff"},{"offset":0.12,"color":"#666"},{"offset":0.142,"color":"#666"},{"offset":0.142,"color":"#fff"},{"offset":0.21,"color":"#fff"},{"offset":0.21,"color":"#666"},{"offset":0.232,"color":"#666"},{"offset":0.232,"color":"#fff"},{"offset":0.3,"color":"#fff"},{"offset":0.3,"color":"#666"},{"offset":0.322,"color":"#666"},{"offset":0.322,"color":"#fff"},{"offset":0.39,"color":"#fff"},{"offset":0.39,"color":"#666"},{"offset":0.412,"color":"#666"},{"offset":0.412,"color":"#fff"},{"offset":0.48,"color":"#fff"},{"offset":0.48,"color":"#666"},{"offset":0.502,"color":"#666"},{"offset":0.502,"color":"#fff"},{"offset":0.57,"color":"#fff"},{"offset":0.57,"color":"#666"},{"offset":0.592,"color":"#666"},{"offset":0.592,"color":"#fff"},{"offset":0.66,"color":"#fff"},{"offset":0.66,"color":"#666"},{"offset":0.682,"color":"#666"},{"offset":0.682,"color":"#fff"},{"offset":0.75,"color":"#fff"},{"offset":0.75,"color":"#666"},{"offset":0.772,"color":"#666"},{"offset":0.772,"color":"#fff"},{"offset":1,"color":"#fff"}]}},
   "encoding": {"x": {"field": "e", "type": "quantitative"}, "x2": {"field": "e2"}, "y": {"field": "v", "type": "quantitative"}, "y2": {"field": "v2"}}},
  {"data": {"values": [{"e":16.964,"v":0.0748,"t":"3a"},{"e":19.102,"v":0.057,"t":"2b"}]},
   "mark": {"type": "text", "align": "left", "baseline": "middle", "fontSize": 18, "font": "DejaVu Sans Condensed, Liberation Sans", "color": "#555"},
   "encoding": {"x": {"field": "e", "type": "quantitative"}, "y": {"field": "v", "type": "quantitative"}, "text": {"field": "t"}}},
  {"data": {"values": [{"e":17.243,"v":0.0773,"t":"-1"},{"e":19.381,"v":0.0594,"t":"-1"},{"e":17.249,"v":0.0728,"t":"1"},{"e":19.387,"v":0.0552,"t":"2"}]},
   "mark": {"type": "text", "align": "left", "baseline": "middle", "fontSize": 14, "font": "DejaVu Sans Condensed, Liberation Sans", "color": "#555"},
   "encoding": {"x": {"field": "e", "type": "quantitative"}, "y": {"field": "v", "type": "quantitative"}, "text": {"field": "t"}}},
  {"data": {"values": [{"e":13.525,"v":0.0773,"t":"3s"},{"e":14.706,"v":0.0773,"t":"3p"},{"e":15.968,"v":0.0773,"t":"5s"},{"e":16.38,"v":0.0773,"t":"5d"},{"e":15.915,"v":0.0687,"t":"4d"},{"e":15.583,"v":0.0588,"t":"3s"},{"e":17.177,"v":0.0588,"t":"4s"},{"e":17.177,"v":0.0502,"t":"3d"}]},
   "mark": {"type": "text", "align": "center", "baseline": "middle", "fontSize": 19, "font": "DejaVu Sans Condensed, Liberation Sans", "color": "#555"},
   "encoding": {"x": {"field": "e", "type": "quantitative"}, "y": {"field": "v", "type": "quantitative"}, "text": {"field": "t"}}},
  {"data": {"values": [{"e":19.461,"v":0.0445,"t":"(b)"}]},
   "mark": {"type": "text", "align": "left", "baseline": "middle", "fontSize": 25, "fontWeight": "bold", "color": "#444"},
   "encoding": {"x": {"field": "e", "type": "quantitative"}, "y": {"field": "v", "type": "quantitative"}, "text": {"field": "t"}}}
 ]}
],
"resolve": {"scale": {"x": "independent", "y": "independent"}}
}
